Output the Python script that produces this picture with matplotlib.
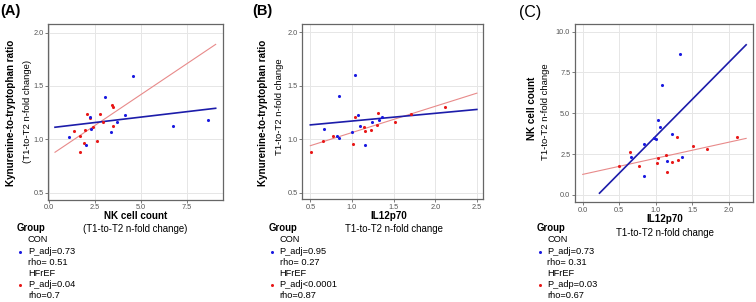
import numpy as np
import matplotlib
matplotlib.use("Agg")
import matplotlib.pyplot as plt
from matplotlib.lines import Line2D

plt.rcParams['font.family'] = ['Liberation Sans', 'DejaVu Sans']

# ---- data ----
# (A) NK cell count vs Kyn/Trp ratio
a_con_x = [1.06, 2.03, 2.25, 2.26, 3.06, 3.37, 3.68, 4.14, 4.57, 6.74, 8.65]
a_con_y = [1.02, 0.944, 1.21, 1.094, 1.40, 1.072, 1.16, 1.23, 1.594, 1.122, 1.184]
a_hf_x = [1.34, 1.70, 1.70, 1.88, 1.95, 2.08, 2.21, 2.39, 2.61, 2.79, 2.92, 3.45, 3.48, 3.48]
a_hf_y = [1.081, 1.034, 0.88, 0.962, 1.084, 1.238, 1.203, 1.119, 0.9875, 1.24, 1.16, 1.319, 1.30, 1.122]
a_con_fit = (1.106, 0.0203)   # intercept, slope
a_hf_fit = (0.841, 0.1155)
a_fit_range = (0.32, 9.08)

# (B) IL12p70 vs Kyn/Trp ratio
b_con_x = [0.664, 0.816, 0.844, 0.848, 1.0, 1.04, 1.068, 1.092, 1.152, 1.236, 1.328, 1.364]
b_con_y = [1.097, 1.034, 1.016, 1.40, 1.072, 1.597, 1.228, 1.122, 0.944, 1.1625, 1.18, 1.21]
b_hf_x = [0.504, 0.656, 0.768, 1.016, 1.04, 1.148, 1.156, 1.228, 1.296, 1.312, 1.512, 1.704, 2.12]
b_hf_y = [0.878, 0.984, 1.034, 0.959, 1.203, 1.116, 1.081, 1.0875, 1.131, 1.244, 1.1625, 1.24, 1.303]
b_con_fit = (1.098, 0.072)
b_hf_fit = (0.8175, 0.245)
b_fit_range = (0.5, 2.5)

# (C) IL12p70 vs NK cell count
c_con_x = [0.658, 0.84, 0.836, 0.982, 1.0, 1.037, 1.064, 1.082, 1.15, 1.228, 1.329, 1.36]
c_con_y = [2.35, 3.11, 1.166, 3.48, 3.415, 4.60, 4.17, 6.73, 2.086, 3.72, 8.61, 2.33]
c_hf_x = [0.498, 0.653, 0.767, 1.014, 1.037, 1.146, 1.15, 1.224, 1.292, 1.306, 1.511, 1.703, 2.114]
c_hf_y = [1.80, 2.66, 1.78, 1.94, 2.25, 2.45, 1.41, 2.02, 3.52, 2.15, 2.99, 2.84, 3.52]
c_con_fit = (-0.93, 4.52)
c_hf_fit = (1.26, 0.984)
c_con_range = (0.23, 2.24)
c_hf_range = (0.0, 2.24)

a_legend = ["CON", "P_adj=0.73", "rho= 0.51", "HFrEF", "P_adj=0.04", "rho=0.7"]
b_legend = ["CON", "P_adj=0.95", "rho= 0.27", "HFrEF", "P_adj<0.0001", "rho=0.87"]
c_legend = ["CON", "P_adj=0.73", "rho= 0.31", "HFrEF", "P_adp=0.03", "rho=0.67"]

W, H = 756, 302
CON_PT = '#1a1ae0'
HF_PT = '#e81818'
CON_LN = '#1c1caa'
HF_LN = '#e88a8a'
GRID = '#e6e6e6'
TICK = '#555555'

fig = plt.figure(figsize=(W / 100, H / 100), dpi=100)


def px_axes(l, t, r, b):
    return fig.add_axes([l / W, 1 - b / H, (r - l) / W, (b - t) / H])


def ftext(x, y, s, **kw):
    fig.text(x / W, 1 - y / H, s, **kw)


def style(ax, xlim, ylim, xticks, yticks):
    ax.set_xlim(*xlim)
    ax.set_ylim(*ylim)
    ax.set_xticks(xticks)
    ax.set_yticks(yticks)
    ax.set_xticklabels(['%.1f' % v for v in xticks])
    ax.set_yticklabels(['%.1f' % v for v in yticks])
    ax.grid(True, color=GRID, lw=0.7)
    ax.set_axisbelow(True)
    for s in ax.spines.values():
        s.set_color('#666666')
        s.set_linewidth(0.9)
    ax.tick_params(length=2, width=0.6, color='#666666', labelsize=5.3,
                   labelcolor=TICK, pad=1.2)


def panel(ax, cx, cy, hx, hy, con_fit, hf_fit, con_rng, hf_rng):
    xs = np.array(hf_rng)
    ax.plot(xs, hf_fit[0] + hf_fit[1] * xs, color=HF_LN, lw=0.8, zorder=2)
    xs = np.array(con_rng)
    ax.plot(xs, con_fit[0] + con_fit[1] * xs, color=CON_LN, lw=1.2, zorder=2)
    ax.scatter(hx, hy, s=5, color=HF_PT, lw=0, zorder=3)
    ax.scatter(cx, cy, s=5, color=CON_PT, lw=0, zorder=3)


def legend(x_group, x_dot, x_text, items):
    ftext(x_group, 228, "Group", fontsize=6.9, fontweight='bold', va='center')
    ys = [240, 251.5, 262.5, 273.5, 284.5, 295.5]
    for y, s in zip(ys, items):
        ftext(x_text, y, s, fontsize=6.7, va='center')
    for y, c in ((ys[1], CON_PT), (ys[4], HF_PT)):
        fig.add_artist(Line2D([x_dot / W], [1 - y / H], transform=fig.transFigure,
                              marker='o', ms=2.2, color=c, mew=0, ls='none'))


def ylabels(x_bold, y_bold, bold, x_norm, y_norm, norm):
    ftext(x_bold, y_bold, bold, fontsize=7.1, fontweight='bold',
          rotation=90, ha='center', va='center')
    ftext(x_norm, y_norm, norm, fontsize=6.8, rotation=90, ha='center', va='center')


def xlabels(x_bold, y_bold, bold, x_norm, y_norm, norm):
    ftext(x_bold, y_bold, bold, fontsize=7.1, fontweight='bold', ha='center', va='center')
    ftext(x_norm, y_norm, norm, fontsize=6.9, ha='center', va='center')


# (A)
axA = px_axes(48.3, 24.3, 223, 200)
panel(axA, a_con_x, a_con_y, a_hf_x, a_hf_y, a_con_fit, a_hf_fit, a_fit_range, a_fit_range)
style(axA, (-0.045, 9.48), (0.43, 2.078), [0.0, 2.5, 5.0, 7.5], [0.5, 1.0, 1.5, 2.0])
ftext(0.5, 11, "(A)", fontsize=10.5, fontweight='bold', va='center')
ylabels(11.5, 113, "Kynurenine-to-tryptophan ratio", 27.5, 111, "(T1-to-T2 n-fold change)")
xlabels(136, 216, "NK cell count", 135, 229, "(T1-to-T2 n-fold change)")
legend(17, 20, 28, a_legend)

# (B)
axB = px_axes(302, 24, 482.7, 199.3)
panel(axB, b_con_x, b_con_y, b_hf_x, b_hf_y, b_con_fit, b_hf_fit, b_fit_range, b_fit_range)
style(axB, (0.4, 2.57), (0.44, 2.075), [0.5, 1.0, 1.5, 2.0, 2.5], [0.5, 1.0, 1.5, 2.0])
ftext(252.5, 11, "(B)", fontsize=10.5, fontweight='bold', va='center')
ylabels(263.5, 113, "Kynurenine-to-tryptophan ratio", 280, 107, "T1-to-T2 n-fold change")
xlabels(389, 216, "IL12p70", 393.5, 229, "T1-to-T2 n-fold change")
legend(269, 272, 279.7, b_legend)

# (C)
axC = px_axes(574.7, 23.5, 752.7, 202.3)
panel(axC, c_con_x, c_con_y, c_hf_x, c_hf_y, c_con_fit, c_hf_fit, c_con_range, c_hf_range)
style(axC, (-0.11, 2.33), (-0.45, 10.5), [0.0, 0.5, 1.0, 1.5, 2.0], [0.0, 2.5, 5.0, 7.5, 10.0])
ftext(519, 12, "(C)", fontsize=11.5, va='center')
ylabels(532, 108, "NK cell count", 545, 112, "T1-to-T2 n-fold change")
xlabels(665, 219, "IL12p70", 665, 233, "T1-to-T2 n-fold change")
legend(536.7, 540, 547.3, c_legend)

fig.savefig("out.png", dpi=100)
